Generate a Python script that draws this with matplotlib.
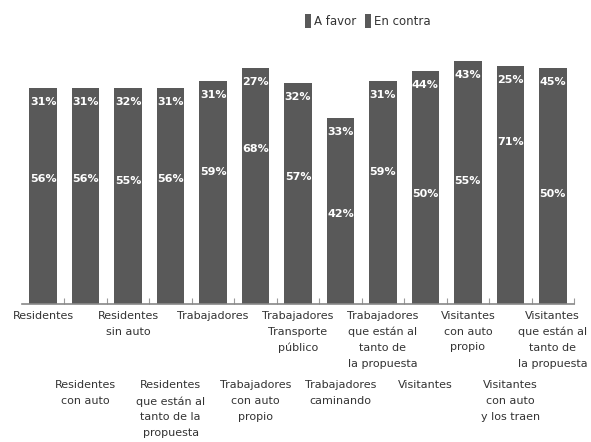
import numpy as np
import matplotlib
matplotlib.use('Agg')
import matplotlib.pyplot as plt

# Data
categorias = [
    'Residentes',
    'Residentes\ncon auto',
    'Residentes\nsin auto',
    'Residentes\nque están al\ntanto de la\npropuesta',
    'Trabajadores',
    'Trabajadores\ncon auto\npropio',
    'Trabajadores\nTransporte\npúblico',
    'Trabajadores\ncaminando',
    'Trabajadores\nque están al\ntanto de\nla propuesta',
    'Visitantes',
    'Visitantes\ncon auto\npropio',
    'Visitantes\ncon auto\ny los traen',
    'Visitantes\nque están al\ntanto de\nla propuesta',
]
a_favor = [56, 56, 55, 56, 59, 68, 57, 42, 59, 50, 55, 71, 50]
en_contra = [31, 31, 32, 31, 31, 27, 32, 33, 31, 44, 43, 25, 45]

bar_color = '#595959'
text_color = '#333333'

fig = plt.figure(figsize=(5.91, 4.42), dpi=100)
ax = fig.add_axes([22 / 591, 1 - 304 / 442, 552 / 591, 248 / 442])

x = np.arange(len(categorias))
a = np.array(a_favor)
e = np.array(en_contra)

b1 = ax.bar(x, a, width=0.65, color=bar_color, label='A favor')
b2 = ax.bar(x, e, bottom=a, width=0.65, color=bar_color, label='En contra')

# labels just below the top of each segment
for xi, v, top in zip(x, a, a):
    ax.annotate(f'{v}%', (xi, top), xytext=(0, -10), textcoords='offset points',
                ha='center', va='center', color='white', fontsize=8, fontweight='bold')
for xi, v, top in zip(x, e, a + e):
    ax.annotate(f'{v}%', (xi, top), xytext=(0, -10), textcoords='offset points',
                ha='center', va='center', color='white', fontsize=8, fontweight='bold')

ax.set_xlim(-0.5, len(categorias) - 0.5)
ax.set_ylim(0, 100)

for s in ['top', 'right', 'left']:
    ax.spines[s].set_visible(False)
ax.spines['bottom'].set_color('#888888')
ax.spines['bottom'].set_linewidth(1.2)
ax.set_yticks([])

# category labels in two staggered rows
ax.set_xticks(x)
ax.set_xticklabels(categorias, fontsize=8, color=text_color, linespacing=1.7)
ax.tick_params(axis='x', which='major', length=0)
for i, t in enumerate(ax.xaxis.get_major_ticks()):
    t.set_pad(5 if i % 2 == 0 else 55)

# small boundary ticks
ax.set_xticks(np.arange(0.5, len(categorias), 1), minor=True)
ax.tick_params(axis='x', which='minor', direction='in', length=4, color='#999999', width=0.8)

fig.legend(handles=[b1, b2], labels=['A favor', 'En contra'], loc='center',
           bbox_to_anchor=(368 / 591, 1 - 21 / 442), ncol=2, frameon=False,
           fontsize=8.5, handlelength=0.55, handleheight=1.5, handletextpad=0.25,
           columnspacing=0.7, labelcolor=text_color)

fig.savefig('out.png', dpi=100)
